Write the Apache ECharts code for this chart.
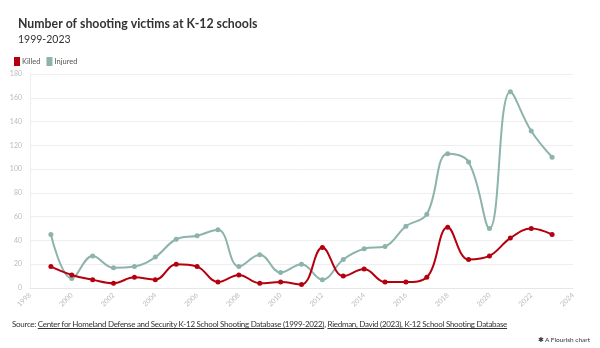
<!DOCTYPE html>
<html><head><meta charset="utf-8">
<script src="https://cdn.jsdelivr.net/npm/echarts@6/dist/echarts.min.js"></script>
<style>
html,body{margin:0;padding:0;background:#fff;}
#c{width:600px;height:348px;position:absolute;left:0;top:0;}
#src{position:absolute;left:12px;top:319px;font-family:Lato,"Open Sans",sans-serif;font-size:8px;letter-spacing:-0.29px;color:#333;white-space:nowrap;}
#src u{text-decoration:underline;}
#fl{position:absolute;right:10px;top:336px;font-family:Lato,sans-serif;font-size:6.5px;color:#333;}
</style></head>
<body>
<div id="c"></div>
<div id="src">Source: <u>Center for Homeland Defense and Security K-12 School Shooting Database (1999-2022)</u>, <u>Riedman, David (2023), K-12 School Shooting Database</u></div>
<div id="fl">✱ A Flourish chart</div>
<script>
const years = [1999,2000,2001,2002,2003,2004,2005,2006,2007,2008,2009,2010,2011,2012,2013,2014,2015,2016,2017,2018,2019,2020,2021,2022,2023];
const killed = [18,11,7,4,9,7,20,18,5,11,4,5,3,34,10,16,5,5,9,51,24,27,42,50,45];
const injured = [45,8,27,17,18,26,41,44,49,18,28,13,20,7,24,33,35,52,62,113,106,50,165,132,110];
const seriesNames = ['Killed','Injured'];
const colors = ['#b4000f','#8db3ad'];

const chart = echarts.init(document.getElementById('c'));
const mk = (name, vals, color) => ({
  name, type:'line', smooth:0.4,
  data: years.map((y,i)=>[y, vals[i]]),
  symbol:'circle', symbolSize:5,
  lineStyle:{width:2, color}, itemStyle:{color},
  emphasis:{disabled:true}
});
chart.setOption({
  animation:false,
  textStyle:{fontFamily:'Lato, "Open Sans", sans-serif'},
  title:[
    {text:'Number of shooting victims at K-12 schools', left:13, top:13,
     textStyle:{fontSize:12.3, fontWeight:'bold', color:'#333', fontFamily:'Lato'}},
    {text:'1999-2023', left:13, top:29,
     textStyle:{fontSize:10.5, fontWeight:'normal', color:'#333', fontFamily:'Lato'}}
  ],
  legend:{left:9, top:52, itemWidth:6, itemHeight:9, itemGap:6, icon:'rect',
    data:seriesNames, textStyle:{fontSize:7.5, color:'#555', padding:[0,0,0,-3]}},
  grid:{left:30, right:27, top:74, bottom:60, containLabel:false},
  xAxis:{type:'value', min:1998, max:2024, interval:2,
    axisLine:{show:true, lineStyle:{color:'#e6e6e6'}},
    axisTick:{show:false}, splitLine:{show:false},
    axisLabel:{rotate:45, fontSize:7, color:'#bbb', margin:6, formatter:v=>String(v)}},
  yAxis:{type:'value', min:0, max:180, interval:20,
    axisLine:{show:true, lineStyle:{color:'#eee'}},
    axisTick:{show:false},
    splitLine:{lineStyle:{color:'#eeeeee'}},
    axisLabel:{fontSize:7, color:'#bbb', margin:8}},
  series:[mk('Killed',killed,colors[0]), mk('Injured',injured,colors[1])].reverse()
});
</script>
</body></html>
